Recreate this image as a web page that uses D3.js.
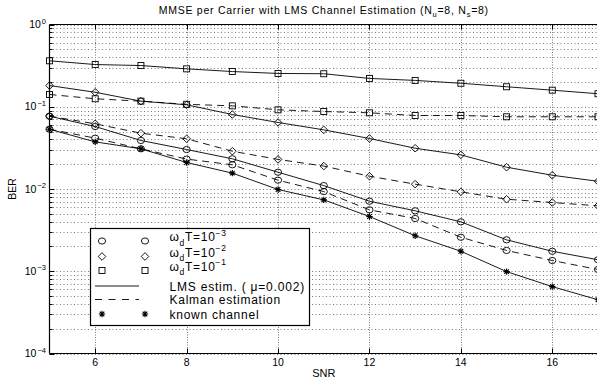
<!DOCTYPE html>
<html><head><meta charset="utf-8">
<script src="https://cdn.jsdelivr.net/npm/d3@7"></script>
<style>
body{margin:0;background:#fff;}
svg{display:block;font-family:"Liberation Sans",Arial,Helvetica,sans-serif;}
</style></head>
<body><svg id="chart" width="597" height="383"></svg>
<script>
const snr = [5,6,7,8,9,10,11,12,13,14,15,16,17];
const lmsCircle  = [0.0768,0.0575,0.0389,0.0302,0.0233,0.0160,0.0110,0.0071,0.00543,0.00399,0.00241,0.00175,0.00138];
const kalCircle  = [0.0533,0.0415,0.0308,0.0231,0.0197,0.0128,0.0093,0.00558,0.00438,0.00259,0.00179,0.00135,0.00105];
const lmsDiamond = [0.181,0.150,0.117,0.1056,0.0805,0.0644,0.0524,0.0411,0.0313,0.026,0.0184,0.0147,0.0124];
const kalDiamond = [0.0768,0.0620,0.0477,0.0408,0.0288,0.0229,0.0190,0.0143,0.01145,0.00924,0.00751,0.00685,0.00624];
const lmsSquare  = [0.362,0.326,0.317,0.289,0.268,0.254,0.252,0.221,0.209,0.193,0.175,0.159,0.144];
const kalSquare  = [0.141,0.125,0.117,0.107,0.1026,0.0918,0.0875,0.0844,0.0783,0.0783,0.0755,0.0755,0.0755];
const knownChan  = [0.0533,0.0374,0.0308,0.0210,0.0156,0.00986,0.00738,0.00463,0.00270,0.00175,0.00099,0.00065,0.00045];
const xTicks = [6,8,10,12,14,16];
const yTickExp = [0,-1,-2,-3,-4];

const series = [
  {y: lmsSquare,  marker:"square",  dash:null},
  {y: kalSquare,  marker:"square",  dash:"7,5"},
  {y: lmsDiamond, marker:"diamond", dash:null},
  {y: kalDiamond, marker:"diamond", dash:"7,5"},
  {y: lmsCircle,  marker:"circle",  dash:null},
  {y: kalCircle,  marker:"circle",  dash:"7,5"},
  {y: knownChan,  marker:"star",    dash:null}
];

const L = 49.5, R = 598, T = 24.5, B = 353.5;
const svg = d3.select("#chart");
const x = d3.scaleLinear().domain([5,17]).range([L,R]);
const y = d3.scaleLog().domain([1e-4,1]).range([B,T]);

// grid
const gridG = svg.append("g").attr("stroke","#7a7a7a").attr("stroke-width",1).attr("stroke-dasharray","1,2.5");
xTicks.forEach(t=>{
  gridG.append("line").attr("x1",Math.round(x(t))+0.5).attr("x2",Math.round(x(t))+0.5).attr("y1",T).attr("y2",B).attr("stroke-dasharray","1,1.5");
});
const minorVals = [];
for(let e=-4;e<0;e++){ for(let m=1;m<10;m++){ minorVals.push(m*Math.pow(10,e)); } }
minorVals.push(1);
minorVals.forEach(v=>{
  const yy = Math.round(y(v))+0.5;
  gridG.append("line").attr("x1",L).attr("x2",R).attr("y1",yy).attr("y2",yy);
});

// axes frame
const ax = svg.append("g").attr("stroke","#000").attr("stroke-width",1.2).attr("fill","none");
ax.append("line").attr("x1",L).attr("x2",R).attr("y1",T).attr("y2",T);
ax.append("line").attr("x1",L).attr("x2",R).attr("y1",B).attr("y2",B);
ax.append("line").attr("x1",L).attr("x2",L).attr("y1",T).attr("y2",B);

// ticks
const tk = svg.append("g").attr("stroke","#000").attr("stroke-width",1);
xTicks.forEach(t=>{
  const xx = Math.round(x(t))+0.5;
  tk.append("line").attr("x1",xx).attr("x2",xx).attr("y1",B).attr("y2",B-5);
  tk.append("line").attr("x1",xx).attr("x2",xx).attr("y1",T).attr("y2",T+5);
});
minorVals.forEach(v=>{
  const yy = Math.round(y(v))+0.5;
  const major = Math.abs(Math.log10(v)-Math.round(Math.log10(v)))<1e-9;
  tk.append("line").attr("x1",L).attr("x2",L+(major?5:3)).attr("y1",yy).attr("y2",yy);
});

// tick labels
const lab = svg.append("g").attr("fill","#000");
xTicks.forEach(t=>{
  lab.append("text").attr("x",x(t)).attr("y",B+12.5).attr("text-anchor","middle").attr("font-size",10.5).text(t);
});
yTickExp.forEach(e=>{
  const yy = y(Math.pow(10,e));
  const txt = lab.append("text").attr("x",L-3.5).attr("y",yy+3.5).attr("text-anchor","end").attr("font-size",10.5);
  txt.append("tspan").text("10");
  txt.append("tspan").attr("dx",1).attr("dy",-4.5).attr("font-size",7.5).text(e===0?"0":"\u2212"+(-e));
});

// axis titles
svg.append("text").attr("x",(L+R)/2).attr("y",B+23.5).attr("text-anchor","middle").attr("font-size",11).text("SNR");
svg.append("text").attr("transform",`translate(16,${(T+B)/2}) rotate(-90)`).attr("text-anchor","middle").attr("font-size",10.5).text("BER");

// title
const title = svg.append("text").attr("x",(L+R)/2).attr("y",14).attr("text-anchor","middle").attr("font-size",10.5).attr("letter-spacing",0.75);
title.append("tspan").text("MMSE per Carrier with LMS Channel Estimation (N");
title.append("tspan").attr("dy",2.5).attr("font-size",7.5).text("u");
title.append("tspan").attr("dy",-2.5).text("=8, N");
title.append("tspan").attr("dy",2.5).attr("font-size",7.5).text("s");
title.append("tspan").attr("dy",-2.5).text("=8)");

// marker drawing
function drawMarker(g, type, cx, cy){
  if(type==="circle"){
    g.append("ellipse").attr("cx",cx).attr("cy",cy).attr("rx",3.6).attr("ry",3.1).attr("fill","none").attr("stroke","#000").attr("stroke-width",0.9);
  } else if(type==="diamond"){
    const s=3.8;
    g.append("path").attr("d",`M${cx},${cy-s}L${cx+s},${cy}L${cx},${cy+s}L${cx-s},${cy}Z`).attr("fill","none").attr("stroke","#000").attr("stroke-width",0.9);
  } else if(type==="square"){
    const s=3;
    g.append("rect").attr("x",cx-s).attr("y",cy-s).attr("width",2*s).attr("height",2*s).attr("fill","none").attr("stroke","#000").attr("stroke-width",0.9);
  } else if(type==="star"){
    const s=3.2, d=s*0.72;
    g.append("path").attr("d",`M${cx-s},${cy}L${cx+s},${cy}M${cx},${cy-s}L${cx},${cy+s}M${cx-d},${cy-d}L${cx+d},${cy+d}M${cx-d},${cy+d}L${cx+d},${cy-d}`).attr("stroke","#000").attr("stroke-width",1.1);
  }
}

// series
const line = d3.line().x(d=>x(d[0])).y(d=>y(d[1]));
const plotG = svg.append("g");
series.forEach(s=>{
  const pts = snr.map((v,i)=>[v,s.y[i]]);
  const p = plotG.append("path").attr("d",line(pts)).attr("fill","none").attr("stroke","#000").attr("stroke-width",0.9);
  if(s.dash) p.attr("stroke-dasharray",s.dash);
  pts.forEach(d=>drawMarker(plotG, s.marker, x(d[0]), y(d[1])));
});

// legend
const lg = svg.append("g");
lg.append("rect").attr("x",90.5).attr("y",228.5).attr("width",219).attr("height",97).attr("fill","#fff").attr("stroke","#000").attr("stroke-width",1.2);
const mx1 = 102, mx2 = 145, tx = 169.5;
const rowsMarker = [["circle",241,"\u22123"],["diamond",256.5,"\u22122"],["square",270.5,"\u22121"]];
rowsMarker.forEach(r=>{
  drawMarker(lg, r[0], mx1, r[1]);
  drawMarker(lg, r[0], mx2, r[1]);
  const t = lg.append("text").attr("x",tx).attr("y",r[1]).attr("font-size",12).attr("letter-spacing",0.7);
  t.append("tspan").text("\u03C9");
  t.append("tspan").attr("dy",4.5).attr("font-size",8.5).text("d");
  t.append("tspan").attr("dy",-4.5).text("T=10");
  t.append("tspan").attr("dy",-5.5).attr("font-size",8.5).text(r[2]);
});
lg.append("line").attr("x1",95).attr("x2",139).attr("y1",286).attr("y2",286).attr("stroke","#000").attr("stroke-width",0.9);
lg.append("text").attr("x",tx).attr("y",290.5).attr("font-size",12).attr("letter-spacing",0.8).text("LMS estim. ( \u03BC=0.002)");
lg.append("line").attr("x1",95).attr("x2",139).attr("y1",299.5).attr("y2",299.5).attr("stroke","#000").attr("stroke-width",0.9).attr("stroke-dasharray","7,6.5");
lg.append("text").attr("x",tx).attr("y",304).attr("font-size",12).attr("letter-spacing",0.75).text("Kalman estimation");
drawMarker(lg,"star",mx1,314);
drawMarker(lg,"star",mx2,314);
lg.append("text").attr("x",tx).attr("y",318.5).attr("font-size",12).attr("letter-spacing",0.75).text("known channel");
</script>
</body></html>
